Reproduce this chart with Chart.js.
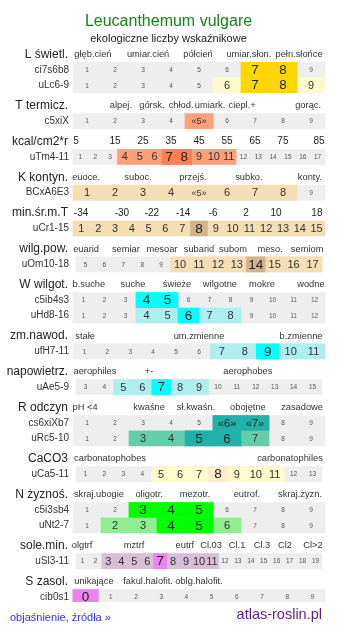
<!DOCTYPE html>
<html>
<head>
<meta charset="utf-8">
<script src="https://cdn.jsdelivr.net/npm/chart.js@4.4.0/dist/chart.umd.min.js"></script>
<style>
  body { margin: 0; background: #fff; font-family: "Liberation Sans", Arial, sans-serif; }
  #wrap { position: relative; width: 337px; height: 634px; }
  #foot-l { position: absolute; left: 10px; top: 611px; font-size: 11px; line-height: 13px; color: #3333ee; text-decoration: none; }
  #foot-r { position: absolute; right: 15px; top: 606px; font-size: 14.5px; line-height: 17px; color: #5b1d8f; }
</style>
</head>
<body>
<div id="wrap">
  <canvas id="eiv" width="337" height="634"></canvas>
  <a id="foot-l" href="#">objaśnienie, źródła »</a>
  <span id="foot-r">atlas-roslin.pl</span>
</div>
<script>
window.addEventListener("DOMContentLoaded", () => {
  // SECTIONS (caption + scale words above the rows)
  const sectionNames = ['L świetl.', 'T termicz.', 'kcal/cm2*r', 'K kontyn.', 'min.śr.m.T', 'wilg.pow.',
    'W wilgot.', 'zm.nawod.', 'napowietrz.', 'R odczyn', 'CaCO3', 'N żyznoś.', 'sole.min.', 'S zasol.'];

  const sectionTicks = [
    ['głęb.cień', 'umiar.cień', 'półcień', 'umiar.słon.', 'pełn.słońce'],
    ['alpej.', 'górsk.', 'chłod.', 'umiark.', 'ciepl.+', 'gorąc.'],
    ['5', '15', '25', '35', '45', '55', '65', '75', '85'],
    ['euoce.', 'suboc.', 'przejś.', 'subko.', 'konty.'],
    ['-34', '-30', '-22', '-14', '-6', '2', '10', '18'],
    ['euarid', 'semiar', 'mesoar', 'subarid', 'subom', 'meso.', 'semiom'],
    ['b.suche', 'suche', 'świeże', 'wilgotne', 'mokre', 'wodne'],
    ['stałe', 'um.zmienne', 'b.zmienne'],
    ['aerophiles', '+-', 'aerophobes'],
    ['pH <4', 'kwaśne', 'sł.kwaśn.', 'obojętne', 'zasadowe'],
    ['carbonatophobes', 'carbonatophiles'],
    ['skraj.ubogie', 'oligotr.', 'mezotr.', 'eutrof.', 'skraj.żyzn.'],
    ['olgtrf', 'mztrf', 'eutrf', 'Cl.03', 'Cl.1', 'Cl.3', 'Cl2', 'Cl>2'],
    ['unikające', 'fakul.halofit.', 'oblg.halofit.']
  ];

  // ROWS (one scale strip each)
  const rowNames = ['ci7s6b8', 'uLc6-9', 'c5xiX', 'uTm4-11', 'BCxA6E3', 'uCr1-15', 'uOm10-18', 'c5ib4s3', 'uHd8-16',
    'ufH7-11', 'uAe5-9', 'cs6xiXb7', 'uRc5-10', 'uCa5-11', 'c5i3sb4', 'uNt2-7', 'uSl3-11', 'cib0s1'];
  const rowSection = [0, 0, 1, 2, 3, 4, 5, 6, 6, 7, 8, 9, 9, 10, 11, 11, 12, 13];
  const rowFrom = [1, 1, 1, 1, 1, 1, 5, 1, 1, 1, 3, 1, 1, 1, 1, 1, 1, 0];
  const rowTo = [9, 9, 9, 17, 9, 15, 17, 12, 12, 11, 15, 9, 9, 13, 9, 9, 19, 9];
  // range of the species (light colour)
  const rowWeak = [
    [], [6, 9], [5], [4, 5, 6, 9, 10, 11], [1, 2, 3, 4, 5, 6, 7, 8],
    [1, 2, 3, 4, 5, 6, 7, 9, 10, 11, 12, 13, 14, 15], [10, 11, 12, 13, 15, 16, 17],
    [], [4, 5, 7, 8], [7, 8, 10, 11], [5, 6, 8, 9], [], [3, 4, 7],
    [5, 6, 7, 9, 10, 11], [], [2, 3, 6], [3, 4, 5, 6, 8, 9, 10, 11], []
  ];
  // optimum (strong colour)
  const rowStrong = [
    [7, 8], [7, 8], [], [7, 8], [], [8], [14], [4, 5], [6], [9], [7], [6, 7], [5, 6], [8],
    [3, 4, 5], [4, 5], [7], [0]
  ];
  // values printed as «n»
  const rowQuoted = [[], [], [5], [], [5], [], [], [], [], [], [], [6, 7], [], [], [], [], [], []];

  // LAYOUT / STYLE
  const FONT = '"Liberation Sans", Arial, sans-serif';
  // centre of every scale word, as share of the strip width
  const tickPos = [
    [0.079, 0.298, 0.496, 0.698, 0.897],
    [0.190, 0.313, 0.429, 0.544, 0.671, 0.933],
    [0.012, 0.167, 0.278, 0.389, 0.500, 0.611, 0.722, 0.833, 0.976],
    [0.052, 0.258, 0.476, 0.698, 0.940],
    [0.032, 0.194, 0.313, 0.437, 0.556, 0.687, 0.806, 0.968],
    [0.052, 0.210, 0.353, 0.500, 0.635, 0.782, 0.929],
    [0.063, 0.238, 0.413, 0.583, 0.750, 0.944],
    [0.048, 0.500, 0.905],
    [0.087, 0.302, 0.694],
    [0.048, 0.302, 0.488, 0.694, 0.909],
    [0.147, 0.861],
    [0.103, 0.302, 0.484, 0.690, 0.901],
    [0.036, 0.242, 0.444, 0.548, 0.651, 0.750, 0.841, 0.952],
    [0.083, 0.298, 0.500]
  ];
  const numericTicks = [2, 4];
  // strips that sit a little narrower
  const rowSpan = r => ([6, 10, 13, 16].includes(r) ? [0.012, 0.988] : [0, 1]);
  // [range colour, optimum colour] for every section
  const palette = [
    ['#fffacd', '#ffd700'], ['#ffa07a', '#ffa07a'], ['#ffa07a', '#ff7f50'], ['#f5deb3', '#d2b48c'],
    ['#f5deb3', '#d2b48c'], ['#f5deb3', '#d2b48c'], ['#afeeee', '#00ffff'], ['#afeeee', '#00ffff'],
    ['#afeeee', '#00ffff'], ['#66cdaa', '#20b2aa'], ['#fffacd', '#ffebcd'], ['#90ee90', '#00ff00'],
    ['#d8bfd8', '#ee82ee'], ['#d8bfd8', '#ee82ee']
  ];

  // vertical slots: header line, then rows 3 apart, 4 before the next header
  const headY = [];
  const rowY = [];
  let u = 0;
  sectionNames.forEach((_, s) => {
    headY.push(u);
    rowSection.forEach((sec, r) => {
      if (sec === s) { u += 3; rowY[r] = u; }
    });
    u += 4;
  });
  const lastY = u - 4;

  const cellEdges = (r, v) => {
    const [s, e] = rowSpan(r);
    const n = rowTo[r] - rowFrom[r] + 1;
    const w = (e - s) / n;
    const i = v - rowFrom[r];
    return [s + i * w, s + (i + 1) * w];
  };

  // consecutive values -> one bar
  const runs = (vals) => {
    const out = [];
    [...vals].sort((a, b) => a - b).forEach(v => {
      const last = out[out.length - 1];
      if (last && v === last[1] + 1) last[1] = v; else out.push([v, v]);
    });
    return out;
  };

  const bgData = [], weakData = [], weakColors = [], strongData = [], strongColors = [];
  rowNames.forEach((_, r) => {
    bgData.push({ x: rowSpan(r), y: rowY[r] });
    runs([...rowWeak[r], ...rowStrong[r]]).forEach(([a, b]) => {
      weakData.push({ x: [cellEdges(r, a)[0], cellEdges(r, b)[1]], y: rowY[r] });
      weakColors.push(palette[rowSection[r]][0]);
    });
    runs(rowStrong[r]).forEach(([a, b]) => {
      strongData.push({ x: [cellEdges(r, a)[0], cellEdges(r, b)[1]], y: rowY[r] });
      strongColors.push(palette[rowSection[r]][1]);
    });
  });

  const common = { grouped: false, barThickness: 15, borderWidth: 0, borderSkipped: false };

  const data = {
    datasets: [
      { ...common, data: strongData, backgroundColor: strongColors, order: 1 },
      { ...common, data: weakData, backgroundColor: weakColors, order: 2 },
      { ...common, data: bgData, backgroundColor: '#eeeeee', order: 3 }
    ]
  };

  // captions, scale words and cell numbers
  const tableText = {
    id: 'tableText',
    afterDatasetsDraw(chart) {
      const { ctx, scales: { x, y } } = chart;
      const left = x.getPixelForValue(0);
      ctx.save();
      ctx.textBaseline = 'middle';

      sectionNames.forEach((name, s) => {
        const py = y.getPixelForValue(headY[s]);
        ctx.textAlign = 'right';
        ctx.fillStyle = '#222';
        ctx.font = '12px ' + FONT;
        ctx.fillText(name, left - 5, py);

        ctx.textAlign = 'center';
        const numeric = numericTicks.includes(s);
        ctx.font = (numeric ? '10px ' : '9.3px ') + FONT;
        ctx.fillStyle = numeric ? '#222' : '#333';
        sectionTicks[s].forEach((t, i) => {
          ctx.fillText(t, x.getPixelForValue(tickPos[s][i]), py);
        });
      });

      rowNames.forEach((name, r) => {
        const py = y.getPixelForValue(rowY[r]);
        ctx.textAlign = 'right';
        ctx.fillStyle = '#333';
        ctx.font = '10px ' + FONT;
        ctx.fillText(name, left - 4, py);

        ctx.textAlign = 'center';
        for (let v = rowFrom[r]; v <= rowTo[r]; v++) {
          const [a, b] = cellEdges(r, v);
          const px = (x.getPixelForValue(a) + x.getPixelForValue(b)) / 2;
          let size = 6.5;
          let color = '#555';
          if (rowStrong[r].includes(v)) { size = 13.5; color = '#222'; }
          else if (rowWeak[r].includes(v)) { size = 11; color = '#333'; }
          let label = String(v);
          if (rowQuoted[r].includes(v)) { label = '«' + v + '»'; size *= 0.82; }
          ctx.font = size + 'px ' + FONT;
          ctx.fillStyle = color;
          ctx.fillText(label, px, py + 0.5);
        }
      });
      ctx.restore();
    }
  };

  const config = {
    type: 'bar',
    data,
    options: {
      indexAxis: 'y',
      responsive: false,
      animation: false,
      layout: { padding: { left: 0, right: 0, top: 0, bottom: 31.9 } },
      scales: {
        x: { type: 'linear', display: false, min: -73 / 252, max: 1 + 12 / 252 },
        y: { type: 'linear', display: false, offset: false, reverse: true, min: -1, max: lastY + 1 }
      },
      plugins: {
        legend: { display: false },
        tooltip: { enabled: false },
        title: {
          display: true,
          text: 'Leucanthemum vulgare',
          color: '#1a801a',
          font: { size: 16, family: FONT, weight: 'normal' },
          padding: { top: 11.5, bottom: 0 }
        },
        subtitle: {
          display: true,
          text: 'ekologiczne liczby wskaźnikowe',
          color: '#222',
          font: { size: 11, family: FONT, weight: 'normal' },
          padding: { top: 1.2, bottom: 4.3 }
        }
      }
    },
    plugins: [tableText]
  };

  new Chart(document.getElementById('eiv'), config);
});
</script>
</body>
</html>
